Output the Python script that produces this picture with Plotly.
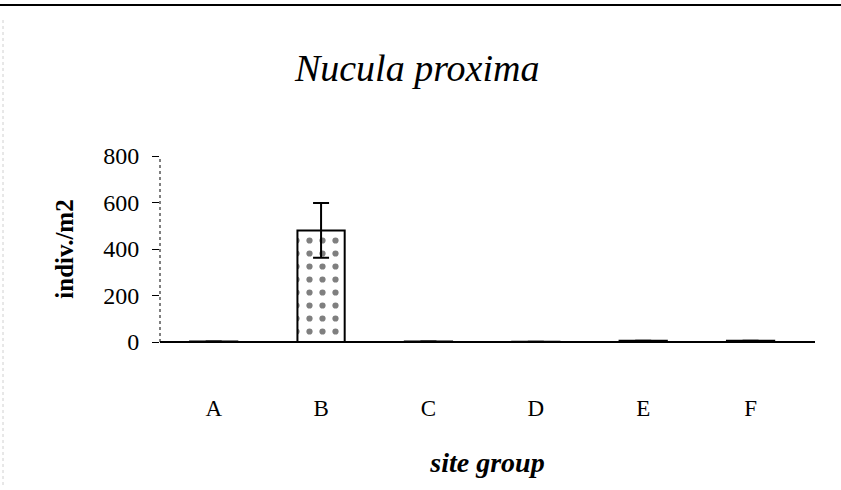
import plotly.graph_objects as go

categories = ["A", "B", "C", "D", "E", "F"]
values = [2, 480, 2, 1, 5, 5]
errors = [0, 118, 0, 0, 0, 0]
y_ticks = [0, 200, 400, 600, 800]

L, R, T, B = 160, 26, 156, 148
PW, PH = 841 - L - R, 490 - T - B

fig = go.Figure()
fig.add_trace(go.Bar(
    x=categories, y=values,
    width=0.44,
    marker=dict(color="white",
                line=dict(color="black", width=2),
                pattern=dict(shape=".", fgcolor="black", bgcolor="white", size=13, solidity=0.18)),
    error_y=dict(type="data", array=errors, visible=True, color="black", thickness=2, width=8),
    showlegend=False,
))

fig.update_layout(
    width=841, height=490,
    paper_bgcolor="white", plot_bgcolor="white",
    margin=dict(l=L, r=R, t=T, b=B),
    title=dict(text="<i>Nucula proxima</i>", x=0.496, xanchor="center", y=0.861, yanchor="middle",
               font=dict(family="Liberation Serif", size=38, color="black")),
    xaxis=dict(
        range=[-0.5, 5.6], showline=False, ticks="", showgrid=False, zeroline=False,
        tickfont=dict(family="Liberation Serif", size=23, color="black"),
        title=dict(text="<b><i>site group</i></b>", font=dict(family="Liberation Serif", size=28, color="black"), standoff=32),
        ticklabelstandoff=50,
    ),
    yaxis=dict(
        range=[0, 800], tickvals=y_ticks, ticks="outside", ticklen=7, tickcolor="black",
        showgrid=False, zeroline=True, zerolinecolor="black", zerolinewidth=1.5, showline=False,
        tickfont=dict(family="Liberation Serif", size=24, color="black"),
        ticklabelstandoff=8,
        title=dict(text="<b>indiv./m2</b>", font=dict(family="Liberation Serif", size=25, color="black"), standoff=22),
    ),
)

# dotted vertical axis line
fig.add_shape(type="line", xref="x domain", yref="y domain", x0=0, x1=0, y0=0, y1=1,
              line=dict(color="black", width=1, dash="dot"))
# scan border line at top of the page
fig.add_shape(type="line", xref="paper", yref="paper",
              x0=-L / PW, x1=1 + R / PW, y0=1 + (T - 5) / PH, y1=1 + (T - 5) / PH,
              line=dict(color="black", width=2))
# faint dotted scan edge on the left
fig.add_shape(type="line", xref="paper", yref="paper",
              x0=-(L - 3) / PW, x1=-(L - 3) / PW, y0=-(B - 5) / PH, y1=1 + (T - 20) / PH,
              line=dict(color="#d0d0d0", width=1, dash="dot"))

fig.write_html("out.html", post_script="document.body.style.margin='0';",
               config={"displayModeBar": False})
